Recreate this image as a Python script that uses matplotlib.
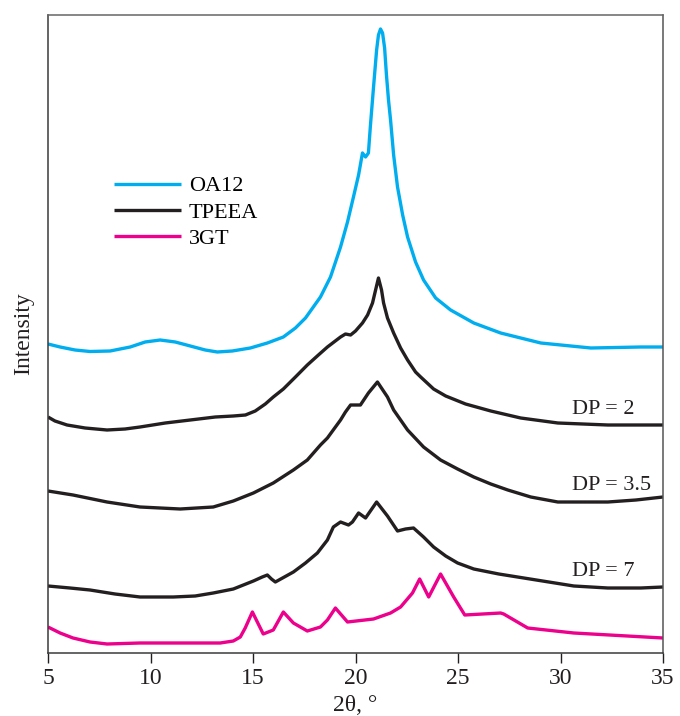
import matplotlib
matplotlib.use("Agg")
import matplotlib.pyplot as plt

plt.rcParams['font.family'] = ['Liberation Serif', 'DejaVu Serif']

# 2-theta (degrees) and intensity (arbitrary units, patterns stacked with offsets)
oa12_x = [5.00, 5.59, 6.32, 7.05, 8.03, 9.01, 9.74, 10.47, 11.21, 11.94, 12.67, 13.26,
          13.99, 14.87, 15.70, 16.48, 17.07, 17.56, 18.29, 18.78, 19.27, 19.61, 19.90,
          20.15, 20.34, 20.49, 20.63, 20.73, 20.88, 21.03, 21.12, 21.22, 21.32, 21.42,
          21.51, 21.61, 21.71, 21.86, 22.05, 22.30, 22.54, 22.93, 23.32, 23.91, 24.64,
          25.77, 27.08, 29.04, 31.48, 33.92, 35.0]
oa12_y = [309, 306, 303, 301.5, 302, 306, 311, 313, 311, 307, 303, 301,
          302, 305, 310, 316, 325, 335, 356, 376, 406, 431, 456,
          478, 500, 496, 500, 528, 566, 603, 618, 624, 620, 605,
          578, 553, 533, 498, 466, 438, 416, 391, 373, 355, 343,
          330, 320, 310, 305, 306, 306]

dp2_x = [5.00, 5.34, 5.93, 6.81, 7.88, 8.76, 9.49, 10.72, 11.94, 13.16, 14.04, 14.63,
         15.11, 15.60, 15.99, 16.48, 17.07, 17.65, 18.19, 18.63, 19.27, 19.51, 19.76,
         20.00, 20.34, 20.59, 20.83, 20.98, 21.12, 21.27, 21.37, 21.56, 21.86, 22.20,
         22.54, 22.93, 23.18, 23.81, 24.40, 25.37, 26.60, 28.06, 29.87, 32.31, 35.0]
dp2_y = [236, 232, 228, 225, 223, 224, 226, 230, 233, 236, 237, 238,
         242, 249, 256, 264, 276, 288, 298, 306, 316, 319, 318,
         322, 330, 338, 350, 363, 375, 363, 350, 335, 320, 305,
         293, 281, 276, 264, 257, 249, 242, 235, 230, 228, 228]

dp35_x = [5.00, 6.22, 7.88, 9.49, 11.45, 13.06, 14.04, 15.02, 15.99, 16.97, 17.65, 18.29,
          18.63, 19.27, 19.51, 19.76, 20.00, 20.24, 20.63, 21.07, 21.56, 21.86, 22.54,
          23.32, 24.15, 24.98, 25.77, 26.60, 27.43, 28.55, 29.87, 30.99, 32.31, 33.68, 35.0]
dp35_y = [162, 158, 151, 146, 144, 146, 152, 160, 170, 183, 193, 208,
          215, 233, 241, 248, 248, 248, 260, 271, 256, 243, 223,
          206, 193, 184, 176, 169, 163, 156, 151, 151, 151, 153, 156]

dp7_x = [5.00, 6.07, 7.05, 8.27, 9.49, 11.11, 12.18, 13.06, 14.04, 15.02, 15.45, 15.70,
         15.90, 16.09, 16.97, 17.56, 18.14, 18.63, 18.92, 19.27, 19.66, 19.85, 20.15,
         20.49, 21.03, 21.56, 22.05, 22.44, 22.83, 23.32, 23.81, 24.40, 24.98, 25.77,
         26.99, 28.21, 29.43, 30.65, 32.31, 33.92, 35.0]
dp7_y = [67, 65, 63, 59, 56, 56, 57, 60, 64, 72, 76, 78,
         74, 71, 81, 90, 100, 113, 126, 131, 128, 131, 140,
         135, 151, 137, 122, 124, 125, 116, 106, 97, 90, 84,
         79, 75, 71, 67, 65, 65, 66]

gt3_x = [5.00, 5.59, 6.22, 7.05, 7.88, 9.49, 11.11, 13.40, 14.04, 14.38, 14.62, 14.97,
         15.50, 15.99, 16.48, 16.97, 17.65, 18.29, 18.63, 19.02, 19.61, 20.88, 21.71,
         22.20, 22.78, 23.13, 23.57, 24.15, 24.79, 25.33, 27.08, 27.23, 28.40, 30.65, 35.0]
gt3_y = [26, 20, 15, 11, 9, 10, 10, 10, 12, 16, 25, 41,
         19, 23, 41, 30, 22, 26, 33, 45, 31, 34, 40,
         46, 60, 74, 56, 79, 56, 38, 40, 39, 25, 20, 15]

series_labels = ["OA12", "TPEEA", "3GT"]
dp_labels = ["DP = 2", "DP = 3.5", "DP = 7"]
dp_label_x = [30.55, 30.55, 30.55]
dp_label_y = [243, 168, 81]
x_ticks = [5, 10, 15, 20, 25, 30, 35]

BLUE = "#00AEEF"
BLACK = "#231F20"
MAGENTA = "#EC008C"

fig = plt.figure(figsize=(6.8, 7.16), dpi=100)
ax = fig.add_axes([48 / 680, 63 / 716, 615 / 680, 638 / 716])

lw = 2.4
style = dict(lw=lw, solid_joinstyle='round', solid_capstyle='butt')
l1, = ax.plot(oa12_x, oa12_y, color=BLUE, **style)
l2, = ax.plot(dp2_x, dp2_y, color=BLACK, **style)
ax.plot(dp35_x, dp35_y, color=BLACK, **style)
ax.plot(dp7_x, dp7_y, color=BLACK, **style)
l3, = ax.plot(gt3_x, gt3_y, color=MAGENTA, **style)

for t, tx, ty in zip(dp_labels, dp_label_x, dp_label_y):
    ax.text(tx, ty, t, fontsize=16, color=BLACK, ha='left', va='center')

ax.set_xlim(5, 35)
ax.set_ylim(0, 638)
ax.set_xticks(x_ticks)
ax.set_xticklabels([str(v) for v in x_ticks])
ax.set_yticks([])
ax.tick_params(axis='x', direction='out', length=7, width=1, labelsize=17,
               colors=BLACK, pad=4)
for s in ax.spines.values():
    s.set_linewidth(1.1)
    s.set_color("#3a3a3a")
ax.spines['top'].set_color("#666666")
ax.spines['right'].set_color("#555555")

ax.set_xlabel("2θ, °", fontsize=17, color=BLACK, labelpad=4)
ax.set_ylabel("Intensity", fontsize=17, color=BLACK, labelpad=10)

leg = ax.legend([l1, l2, l3], series_labels, loc='upper left',
                bbox_to_anchor=(0.093, 0.762), frameon=False, fontsize=16,
                handlelength=3.03, handletextpad=0.33, labelspacing=0.26,
                borderaxespad=0)
for line in leg.get_lines():
    line.set_linewidth(2.4)

fig.savefig("out.png", dpi=100)
